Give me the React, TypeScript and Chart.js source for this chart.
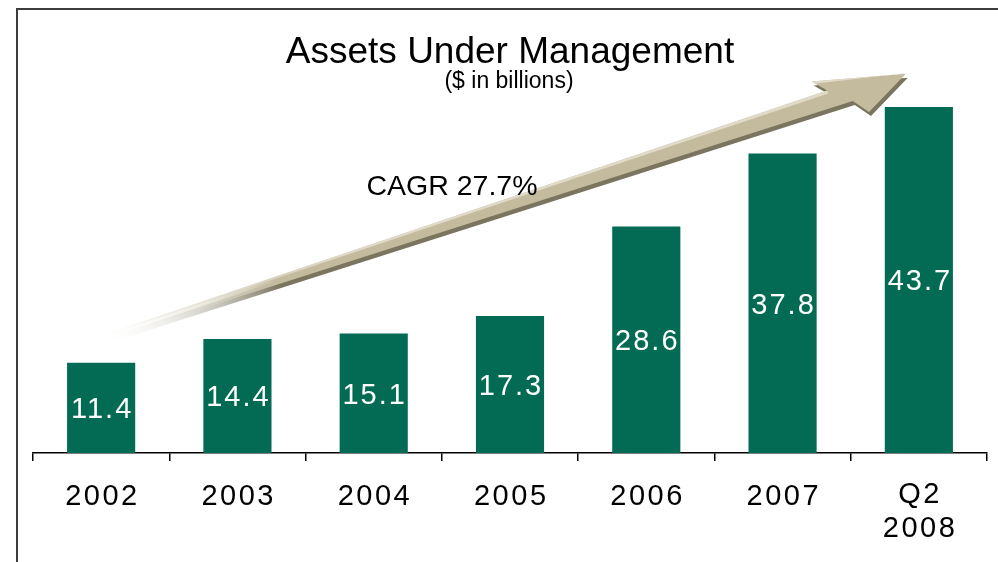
import { useEffect, useRef } from 'react';
import { Chart, registerables } from 'chart.js';

Chart.register(...registerables);

const categories: string[][] = [['2002'], ['2003'], ['2004'], ['2005'], ['2006'], ['2007'], ['Q2', '2008']];
const assets = [11.4, 14.4, 15.1, 17.3, 28.6, 37.8, 43.7];
const titleText = 'Assets Under Management';
const subtitleText = '($ in billions)';
const cagrText = 'CAGR 27.7%';
const yMax = 50;
const arrowTailValue = 14.5;
const arrowTipValue = 47.9;

const FONT = "'Liberation Sans', Arial, Helvetica, sans-serif";
const BAR_GREEN = '#036b53';

const decorPlugin = {
  id: 'decor',
  beforeDraw(chart: any) {
    const ctx: CanvasRenderingContext2D = chart.ctx;
    ctx.save();
    ctx.fillStyle = '#ffffff';
    ctx.fillRect(0, 0, chart.width, chart.height);
    ctx.strokeStyle = '#3c3c3c';
    ctx.lineWidth = 2;
    ctx.beginPath();
    ctx.moveTo(17, chart.height);
    ctx.lineTo(17, 9);
    ctx.lineTo(chart.width, 9);
    ctx.stroke();
    ctx.restore();
  },
  beforeDatasetsDraw(chart: any) {
    const ctx: CanvasRenderingContext2D = chart.ctx;
    const xs = chart.scales.x;
    const ys = chart.scales.y;
    const tail = { x: xs.getPixelForValue(0), y: ys.getPixelForValue(arrowTailValue) };
    const tip = { x: xs.getPixelForValue(6) - 13, y: ys.getPixelForValue(arrowTipValue) };
    const dx = tip.x - tail.x;
    const dy = tip.y - tail.y;
    const L = Math.hypot(dx, dy);
    const d = { x: dx / L, y: dy / L };
    const n = { x: -d.y, y: d.x };
    const P = (u: number, v: number) => ({ x: tip.x + d.x * u + n.x * v, y: tip.y + d.y * u + n.y * v });
    const pts = [
      P(0, 0),
      P(-92, -22),
      P(-80, -8.5),
      P(-L, -2.5),
      P(-L, 2.5),
      P(-59, 9.5),
      P(-47, 25),
    ];
    const drawPoly = (ox: number, oy: number, color: string) => {
      const g0 = P(-L, 0);
      const g1 = P(-L * 0.78, 0);
      const grad = ctx.createLinearGradient(g0.x + ox, g0.y + oy, g1.x + ox, g1.y + oy);
      grad.addColorStop(0, 'rgba(255,255,255,0)');
      grad.addColorStop(1, color);
      ctx.fillStyle = grad;
      ctx.beginPath();
      pts.forEach((p, i) => (i === 0 ? ctx.moveTo(p.x + ox, p.y + oy) : ctx.lineTo(p.x + ox, p.y + oy)));
      ctx.closePath();
      ctx.fill();
    };
    ctx.save();
    drawPoly(2, 4, '#7b745e');
    drawPoly(0, 0, '#c4bb9f');
    // light highlight band on the upper edges
    const hg0 = P(-L, 0);
    const hgrad = ctx.createLinearGradient(hg0.x, hg0.y, tip.x, tip.y);
    hgrad.addColorStop(0, 'rgba(225,218,200,0)');
    hgrad.addColorStop(0.3, 'rgba(225,218,200,1)');
    hgrad.addColorStop(1, 'rgba(225,218,200,1)');
    ctx.fillStyle = hgrad;
    const band = [P(-80, -8.5), P(-L, -2.5), P(-L, -1), P(-80, -5.5)];
    ctx.beginPath();
    band.forEach((p, i) => (i === 0 ? ctx.moveTo(p.x, p.y) : ctx.lineTo(p.x, p.y)));
    ctx.closePath();
    ctx.fill();
    const headBand = [P(0, 0), P(-92, -22), P(-88, -18.5), P(-4, -1.5)];
    ctx.beginPath();
    headBand.forEach((p, i) => (i === 0 ? ctx.moveTo(p.x, p.y) : ctx.lineTo(p.x, p.y)));
    ctx.closePath();
    ctx.fill();
    ctx.restore();
  },
  afterDraw(chart: any) {
    const ctx: CanvasRenderingContext2D = chart.ctx;
    const xs = chart.scales.x;
    ctx.save();
    (ctx as any).letterSpacing = '0px';
    ctx.fillStyle = '#000000';
    ctx.textAlign = 'center';
    ctx.textBaseline = 'alphabetic';
    ctx.font = `37px ${FONT}`;
    ctx.fillText(titleText, 510, 63);
    ctx.font = `23px ${FONT}`;
    ctx.fillText(subtitleText, 509, 88);
    ctx.font = `28.5px ${FONT}`;
    ctx.fillText(cagrText, 452, 195);

    // category labels, positioned by the x scale
    ctx.font = `29px ${FONT}`;
    (ctx as any).letterSpacing = '2.5px';
    categories.forEach((lines, i) => {
      const x = xs.getPixelForValue(i) + 1.25;
      const first = lines.length > 1 ? 503 : 505;
      lines.forEach((ln, j) => ctx.fillText(ln, x, first + j * 34));
    });

    // bar value labels
    const meta = chart.getDatasetMeta(0);
    ctx.fillStyle = '#ffffff';
    ctx.font = `29px ${FONT}`;
    (ctx as any).letterSpacing = '2px';
    meta.data.forEach((bar: any, i: number) => {
      const cy = (bar.y + bar.base) / 2;
      ctx.fillText(assets[i].toFixed(1), bar.x + 1, cy + 29 * 0.358);
    });
    ctx.restore();
  },
};

export default function App() {
  const ref = useRef<HTMLCanvasElement | null>(null);
  useEffect(() => {
    if (!ref.current) return;
    const chart = new Chart(ref.current, {
      type: 'bar',
      data: {
        labels: categories.map((c) => c.join(' ')),
        datasets: [
          {
            data: assets,
            backgroundColor: BAR_GREEN,
            borderWidth: 0,
            categoryPercentage: 1,
            barPercentage: 0.5,
          },
        ],
      },
      options: {
        animation: false,
        responsive: false,
        events: [],
        layout: { padding: { left: 33, right: 11, top: 57, bottom: 101 } },
        plugins: {
          legend: { display: false },
          tooltip: { enabled: false },
          title: { display: false },
        },
        scales: {
          x: {
            grid: {
              display: true,
              drawOnChartArea: false,
              drawTicks: true,
              tickLength: 8,
              color: '#000000',
              lineWidth: 1.5,
              offset: true,
            },
            border: { display: true, color: '#000000', width: 1.5 },
            ticks: { display: false, autoSkip: false },
          },
          y: { display: false, min: 0, max: yMax },
        },
      },
      plugins: [decorPlugin],
    });
    return () => chart.destroy();
  }, []);
  return (
    <div style={{ position: 'absolute', left: 0, top: 0, width: 998, height: 562, background: '#fff' }}>
      <canvas ref={ref} width={998} height={562} style={{ display: 'block' }} />
    </div>
  );
}
